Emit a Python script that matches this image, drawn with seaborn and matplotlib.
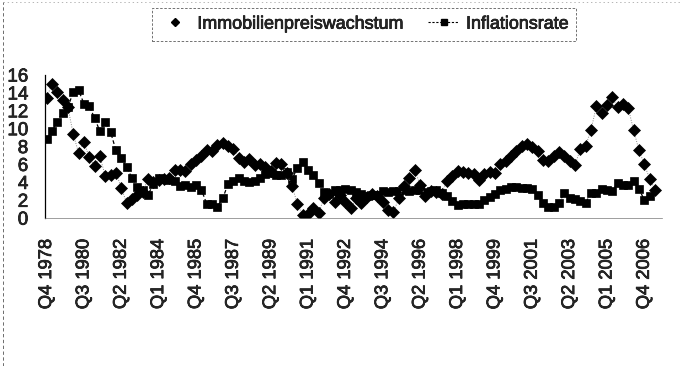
import numpy as np
import pandas as pd
import matplotlib
matplotlib.use("Agg")
import matplotlib.pyplot as plt
import matplotlib.patheffects as pe
from matplotlib.lines import Line2D
import seaborn as sns

# Quarterly series, Q4 1978 .. Q2 2007 (percent)
immobilienpreiswachstum = [
    13.4, 15.0, 14.1, 13.2, 12.4, 9.4, 7.3, 8.5, 6.8, 5.8,
    6.9, 4.7, 4.8, 5.1, 3.4, 1.7, 2.1, 2.6, 2.9, 4.4,
    4.0, 4.3, 4.4, 4.5, 5.4, 5.4, 5.3, 6.0, 6.5, 6.9,
    7.6, 7.5, 8.2, 8.4, 8.1, 7.7, 6.7, 6.3, 6.6, 5.9,
    6.1, 5.7, 5.3, 6.2, 6.0, 5.0, 3.6, 1.6, 0.3, 0.5,
    1.1, 0.6, 2.3, 2.7, 1.8, 2.6, 1.8, 1.1, 2.2, 1.7,
    2.4, 2.7, 2.5, 1.8, 0.9, 0.7, 2.2, 3.6, 4.5, 5.4,
    3.7, 2.5, 3.0, 2.9, 2.7, 4.2, 4.7, 5.3, 5.2, 5.1,
    4.9, 4.3, 4.9, 5.2, 5.0, 6.0, 6.4, 6.9, 7.5, 8.1,
    8.3, 7.9, 7.5, 6.5, 6.4, 7.0, 7.4, 7.0, 6.4, 5.9,
    7.7, 8.1, 9.8, 12.5, 11.7, 12.6, 13.5, 12.4, 12.8, 12.3,
    9.8, 7.6, 6.0, 4.4, 3.2,
]
inflationsrate = [
    8.9, 9.7, 10.8, 11.8, 12.4, 14.1, 14.3, 12.8, 12.5, 11.2,
    9.7, 10.7, 9.6, 7.6, 6.7, 5.7, 4.5, 3.5, 3.2, 2.6,
    3.8, 4.5, 4.4, 4.3, 4.1, 3.6, 3.7, 3.5, 3.7, 3.2,
    1.6, 1.6, 1.3, 2.2, 3.8, 4.2, 4.5, 4.1, 4.0, 4.2,
    4.5, 4.9, 5.0, 4.8, 4.8, 5.2, 4.4, 5.6, 6.3, 5.4,
    4.8, 3.9, 2.9, 2.7, 3.1, 3.1, 3.3, 3.2, 2.9, 2.7,
    2.5, 2.6, 2.6, 3.0, 2.9, 3.0, 3.0, 3.2, 3.0, 3.1,
    3.2, 2.9, 3.0, 3.1, 2.8, 2.5, 1.9, 1.5, 1.6, 1.6,
    1.6, 1.6, 2.0, 2.4, 2.7, 3.1, 3.3, 3.5, 3.5, 3.4,
    3.4, 3.3, 2.6, 1.7, 1.3, 1.3, 1.7, 2.8, 2.2, 2.1,
    1.9, 1.7, 2.8, 2.8, 3.3, 3.1, 3.0, 3.9, 3.7, 3.7,
    4.1, 3.3, 2.0, 2.5, np.nan,
]
tick_labels = [
    "Q4 1978", "Q3 1980", "Q2 1982", "Q1 1984", "Q4 1985", "Q3 1987",
    "Q2 1989", "Q1 1991", "Q4 1992", "Q3 1994", "Q2 1996", "Q1 1998",
    "Q4 1999", "Q3 2001", "Q2 2003", "Q1 2005", "Q4 2006",
]
label_step = 7  # one label every seven quarters

quarters = pd.period_range("1978Q4", periods=len(inflationsrate), freq="Q")
df = pd.DataFrame({
    "pos": np.arange(len(quarters)),
    "Immobilienpreiswachstum": immobilienpreiswachstum,
    "Inflationsrate": inflationsrate,
})

sns.set_style("white")
plt.rcParams["font.family"] = ["Liberation Sans", "DejaVu Sans"]
heavy = [pe.withStroke(linewidth=0.5, foreground="black")]

fig = plt.figure(figsize=(6.81, 3.66), dpi=100)
ax = fig.add_axes([0.066, 0.404, 0.906, 0.391])

sns.lineplot(data=df, x="pos", y="Inflationsrate", ax=ax, color="black",
             linestyle=(0, (3, 2)), linewidth=0.9, marker="s", markersize=6.3,
             markerfacecolor="black", markeredgecolor="black", markeredgewidth=0.5)
sns.lineplot(data=df, x="pos", y="Immobilienpreiswachstum", ax=ax, color="#8a8a8a",
             linestyle=(0, (1, 1.5)), linewidth=0.7, marker="D", markersize=5.8,
             markerfacecolor="black", markeredgecolor="black", markeredgewidth=0.5)

ax.set_xlim(-0.3, len(quarters) + 0.3)
ax.set_ylim(0, 16)
ax.set_yticks(np.arange(0, 17, 2))
ax.set_xticks(np.arange(len(tick_labels)) * label_step)
ax.set_xticklabels(tick_labels, rotation=90)
ax.set_xticks(np.arange(len(quarters)), minor=True)
ax.set_xlabel("")
ax.set_ylabel("")

ax.tick_params(axis="x", which="both", direction="out", length=3, width=0.6,
               color="#444444", labelsize=13.2, pad=12)
ax.tick_params(axis="y", which="major", direction="in", length=2, width=0.6,
               labelsize=13.5, pad=12)
for lbl in ax.get_xticklabels() + ax.get_yticklabels():
    lbl.set_path_effects(heavy)

for side in ("top", "right"):
    ax.spines[side].set_visible(False)
ax.spines["left"].set_color("black")
ax.spines["left"].set_linewidth(0.9)
ax.spines["bottom"].set_color("#777777")
ax.spines["bottom"].set_linewidth(0.5)
ax.grid(False)

handles = [
    Line2D([], [], linestyle="none", marker="D", markersize=4.5,
           markerfacecolor="black", markeredgecolor="black"),
    Line2D([], [], color="black", linestyle=(0, (2, 1.5)), linewidth=0.8,
           marker="s", markersize=5, markerfacecolor="black", markeredgecolor="black"),
]
leg = fig.legend(handles, ["Immobilienpreiswachstum", "Inflationsrate"],
                 loc="center", bbox_to_anchor=(0.5345, 0.934), ncol=2,
                 fontsize=12.9, frameon=True, fancybox=False, handlelength=1.7,
                 handletextpad=0.4, columnspacing=1.4, borderpad=0.45,
                 borderaxespad=0.0)
for txt in leg.get_texts():
    txt.set_path_effects(heavy)
frame = leg.get_frame()
frame.set_edgecolor("#333333")
frame.set_linewidth(0.6)
frame.set_linestyle((0, (3, 2)))

# frame edges of the chart area
fig.add_artist(Line2D([0.004, 0.004], [0.0, 0.995], transform=fig.transFigure,
                      color="#555555", linewidth=0.6, linestyle=(0, (4, 3))))
fig.add_artist(Line2D([0.004, 1.0], [0.995, 0.995], transform=fig.transFigure,
                      color="#999999", linewidth=0.5, linestyle=(0, (2, 4))))

fig.savefig("out.png", dpi=100)
